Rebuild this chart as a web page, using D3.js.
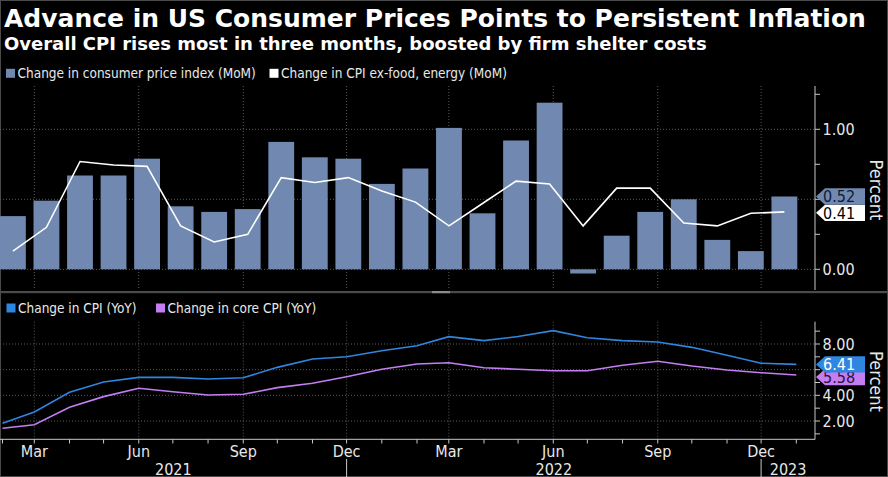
<!DOCTYPE html>
<html><head><meta charset="utf-8">
<script src="https://cdn.jsdelivr.net/npm/d3@7"></script>
<style>
body{margin:0;background:#000;}
svg{display:block;}
text{font-stretch:condensed;}
</style></head><body>
<svg id="c" width="888" height="477"></svg>
<script>
// ---- data ----
const months = ["2021-02","2021-03","2021-04","2021-05","2021-06","2021-07","2021-08","2021-09","2021-10","2021-11","2021-12",
  "2022-01","2022-02","2022-03","2022-04","2022-05","2022-06","2022-07","2022-08","2022-09","2022-10","2022-11","2022-12","2023-01"];
const cpiMoM  = [0.38,0.49,0.67,0.67,0.79,0.45,0.41,0.43,0.91,0.80,0.79,0.61,0.72,1.01,0.40,0.92,1.19,-0.03,0.24,0.41,0.50,0.21,0.13,0.52];
const coreMoM = [0.13,0.30,0.77,0.745,0.735,0.31,0.195,0.25,0.655,0.62,0.655,0.56,0.48,0.31,0.47,0.63,0.61,0.31,0.58,0.58,0.33,0.31,0.40,0.41];
const cpiYoY  = [1.82,2.70,4.24,5.04,5.40,5.40,5.27,5.37,6.18,6.83,7.01,7.48,7.87,8.57,8.26,8.58,9.04,8.49,8.26,8.16,7.74,7.12,6.50,6.41];
const coreYoY = [1.43,1.71,3.07,3.90,4.55,4.28,4.03,4.08,4.60,4.94,5.45,6.03,6.44,6.54,6.15,6.03,5.92,5.92,6.34,6.65,6.29,5.98,5.76,5.58];
const topTickLabels = [0, 1];
const bottomTickLabels = [2, 4, 6, 8];
const years = ["2021","2022","2023"];
const legendTop = ["Change in consumer price index (MoM)", "Change in CPI ex-food, energy (MoM)"];
const legendBottom = ["Change in CPI (YoY)", "Change in core CPI (YoY)"];
const title = "Advance in US Consumer Prices Points to Persistent Inflation";
const subtitle = "Overall CPI rises most in three months, boosted by firm shelter costs";

// ---- style ----
const FONT = '"DejaVu Sans Condensed","DejaVu Sans",sans-serif';
const BAR = "#7189b0", WHITE = "#ffffff", BLUE = "#2f86e0", PURPLE = "#c47ef2";
const GRID = "#5a5a5a", AXIS = "#c8c8c8";

const svg = d3.select("#c");
svg.append("rect").attr("width",888).attr("height",477).attr("fill","#000");
svg.append("rect").attr("x",0.5).attr("y",0.5).attr("width",887).attr("height",476)
   .attr("fill","none").attr("stroke","#4a4a4a");

const parse = d3.utcParse("%Y-%m");
const dates = months.map(parse);

// scales
const xT = d3.scaleUtc().domain([new Date(Date.UTC(2021,2,1)), new Date(Date.UTC(2023,0,1))]).range([34.3, 796.3]);
const xB = d3.scaleBand().domain(months).range([0, 797.3]).paddingInner(0.23).paddingOuter(0);
const yTop = d3.scaleLinear().domain([0, 1]).range([269.3, 129.3]);
const yBot = d3.scaleLinear().domain([2, 8]).range([421, 344]);
const AX = 815;

// titles
svg.append("text").attr("x",4).attr("y",26.5).text(title)
  .attr("font-family","DejaVu Sans").attr("font-weight","bold").attr("font-size",25).attr("fill","#fff")
  .style("font-stretch","normal");
svg.append("text").attr("x",4).attr("y",50).text(subtitle)
  .attr("font-family","DejaVu Sans").attr("font-weight","bold").attr("font-size",18).attr("fill","#fff")
  .style("font-stretch","normal");

// legends
function legend(items, colors, y, xs){
  items.forEach((t,i)=>{
    svg.append("rect").attr("x",xs[i]).attr("y",y-9.5).attr("width",9).attr("height",9).attr("fill",colors[i]);
    svg.append("text").attr("x",xs[i]+11.5).attr("y",y).text(t)
      .attr("font-family",FONT).attr("font-size",13.5).attr("fill","#e8e8e8");
  });
}
legend(legendTop, [BAR, WHITE], 78.3, [6, 269.5]);
legend(legendBottom, [BLUE, PURPLE], 313, [6.5, 156]);

// separator
svg.append("rect").attr("x",0).attr("y",291).attr("width",888).attr("height",2.2).attr("fill","#4b4b4b");
svg.append("rect").attr("x",432).attr("y",291).attr("width",18).attr("height",2.2).attr("fill","#8a8a8a");

const monthTicks = d3.utcMonth.range(new Date(Date.UTC(2021,1,1)), new Date(Date.UTC(2023,0,2)));
const quarterTicks = monthTicks.filter(d => d.getUTCMonth() % 3 === 2);

// ---- top panel ----
const gTop = svg.append("g");
gTop.selectAll(".vg").data(quarterTicks).join("line")
  .attr("x1",d=>xT(d)).attr("x2",d=>xT(d)).attr("y1",86).attr("y2",290)
  .attr("stroke",GRID).attr("stroke-dasharray","1,2");
gTop.selectAll(".hg").data([0,0.5,1]).join("line")
  .attr("x1",0).attr("x2",AX).attr("y1",d=>yTop(d)).attr("y2",d=>yTop(d))
  .attr("stroke",GRID).attr("stroke-dasharray","1,2");
gTop.selectAll(".bar").data(months).join("rect")
  .attr("x",d=>xB(d)).attr("width",xB.bandwidth())
  .attr("y",(d,i)=>yTop(Math.max(0,cpiMoM[i])))
  .attr("height",(d,i)=>Math.abs(yTop(cpiMoM[i])-yTop(0)))
  .attr("fill",BAR);
const lineTop = d3.line().x((d,i)=>xB(months[i])+xB.bandwidth()/2).y(d=>yTop(d));
gTop.append("path").attr("d",lineTop(coreMoM)).attr("fill","none").attr("stroke",WHITE).attr("stroke-width",1.6);
gTop.append("line").attr("x1",AX).attr("x2",AX).attr("y1",86).attr("y2",290).attr("stroke",AXIS);
const topMinor = d3.range(0,1.26,0.25);
gTop.selectAll(".tt").data(topMinor).join("line")
  .attr("x1",AX).attr("x2",AX+5).attr("y1",d=>yTop(d)).attr("y2",d=>yTop(d)).attr("stroke",AXIS);
gTop.selectAll(".tl").data(topTickLabels).join("text")
  .attr("x",AX+7.5).attr("y",d=>yTop(d)).attr("dy","0.36em").text(d=>d3.format(".2f")(d))
  .attr("font-family",FONT).attr("font-size",16).attr("fill","#e8e8e8");
svg.append("text").attr("transform","translate(870,190) rotate(90)").attr("text-anchor","middle")
  .text("Percent").attr("font-family",FONT).attr("font-size",18).attr("fill","#e8e8e8");

// ---- bottom panel ----
const gBot = svg.append("g");
gBot.selectAll(".vg").data(quarterTicks).join("line")
  .attr("x1",d=>xT(d)).attr("x2",d=>xT(d)).attr("y1",321.7).attr("y2",439)
  .attr("stroke",GRID).attr("stroke-dasharray","1,2");
gBot.selectAll(".hg").data(bottomTickLabels).join("line")
  .attr("x1",0).attr("x2",AX).attr("y1",d=>yBot(d)).attr("y2",d=>yBot(d))
  .attr("stroke",GRID).attr("stroke-dasharray","1,2");
const lineBot = d3.line().x((d,i)=>xT(dates[i])).y(d=>yBot(d));
gBot.append("path").attr("d",lineBot(coreYoY)).attr("fill","none").attr("stroke",PURPLE).attr("stroke-width",1.6);
gBot.append("path").attr("d",lineBot(cpiYoY)).attr("fill","none").attr("stroke",BLUE).attr("stroke-width",1.6);
gBot.append("line").attr("x1",AX).attr("x2",AX).attr("y1",321.7).attr("y2",439.5).attr("stroke",AXIS);
gBot.append("line").attr("x1",0).attr("x2",AX).attr("y1",439.3).attr("y2",439.3).attr("stroke",AXIS);
gBot.selectAll(".tt").data(d3.range(1,10)).join("line")
  .attr("x1",AX).attr("x2",AX+5).attr("y1",d=>yBot(d)).attr("y2",d=>yBot(d)).attr("stroke",AXIS);
gBot.selectAll(".tl").data(bottomTickLabels).join("text")
  .attr("x",AX+7.5).attr("y",d=>yBot(d)).attr("dy","0.36em").text(d=>d3.format(".2f")(d))
  .attr("font-family",FONT).attr("font-size",16).attr("fill","#e8e8e8");
svg.append("text").attr("transform","translate(870,381.5) rotate(90)").attr("text-anchor","middle")
  .text("Percent").attr("font-family",FONT).attr("font-size",18).attr("fill","#e8e8e8");

// x axis ticks & labels
gBot.selectAll(".mt").data(monthTicks).join("line")
  .attr("x1",d=>xT(d)).attr("x2",d=>xT(d)).attr("y1",439.3).attr("y2",443.5).attr("stroke",AXIS);
gBot.selectAll(".ml").data(quarterTicks).join("text")
  .attr("x",d=>xT(d)).attr("y",456.5).attr("text-anchor","middle").text(d3.utcFormat("%b"))
  .attr("font-family",FONT).attr("font-size",16).attr("fill","#e8e8e8");
const decs = quarterTicks.filter(d=>d.getUTCMonth()===11);
gBot.selectAll(".ys").data(decs).join("line")
  .attr("x1",d=>xT(d)).attr("x2",d=>xT(d)).attr("y1",459).attr("y2",477).attr("stroke",AXIS);
const bounds = [0, ...decs.map(d=>xT(d)), AX];
gBot.selectAll(".yl").data(years).join("text")
  .attr("x",(d,i)=>(bounds[i]+bounds[i+1])/2).attr("y",475).attr("text-anchor","middle").text(d=>d)
  .attr("font-family",FONT).attr("font-size",16).attr("fill","#e8e8e8");

// ---- value tags ----
function tag(value, y, bg, fg){
  const h = 16.3, cy = y;
  const pts = [[AX+1,cy],[AX+10,cy-h/2],[AX+50,cy-h/2],[AX+50,cy+h/2],[AX+10,cy+h/2]];
  svg.append("path").attr("d", d3.line()(pts)+"Z").attr("fill",bg);
  svg.append("text").attr("x",AX+8).attr("y",cy).attr("dy","0.36em").text(d3.format(".2f")(value))
    .attr("font-family",FONT).attr("font-size",16).attr("fill",fg);
}
const lastCore = coreMoM[coreMoM.length-1], lastCpi = cpiMoM[cpiMoM.length-1];
tag(lastCore, yTop(lastCore)+0.9, WHITE, "#000");
tag(lastCpi, yTop(lastCpi), BAR, "#0d1b33");
const lastCoreY = coreYoY[coreYoY.length-1], lastCpiY = cpiYoY[cpiYoY.length-1];
tag(lastCoreY, yBot(lastCoreY)+2, PURPLE, "#2a1240");
tag(lastCpiY, yBot(lastCpiY), BLUE, "#ffffff");
</script>
</body></html>
